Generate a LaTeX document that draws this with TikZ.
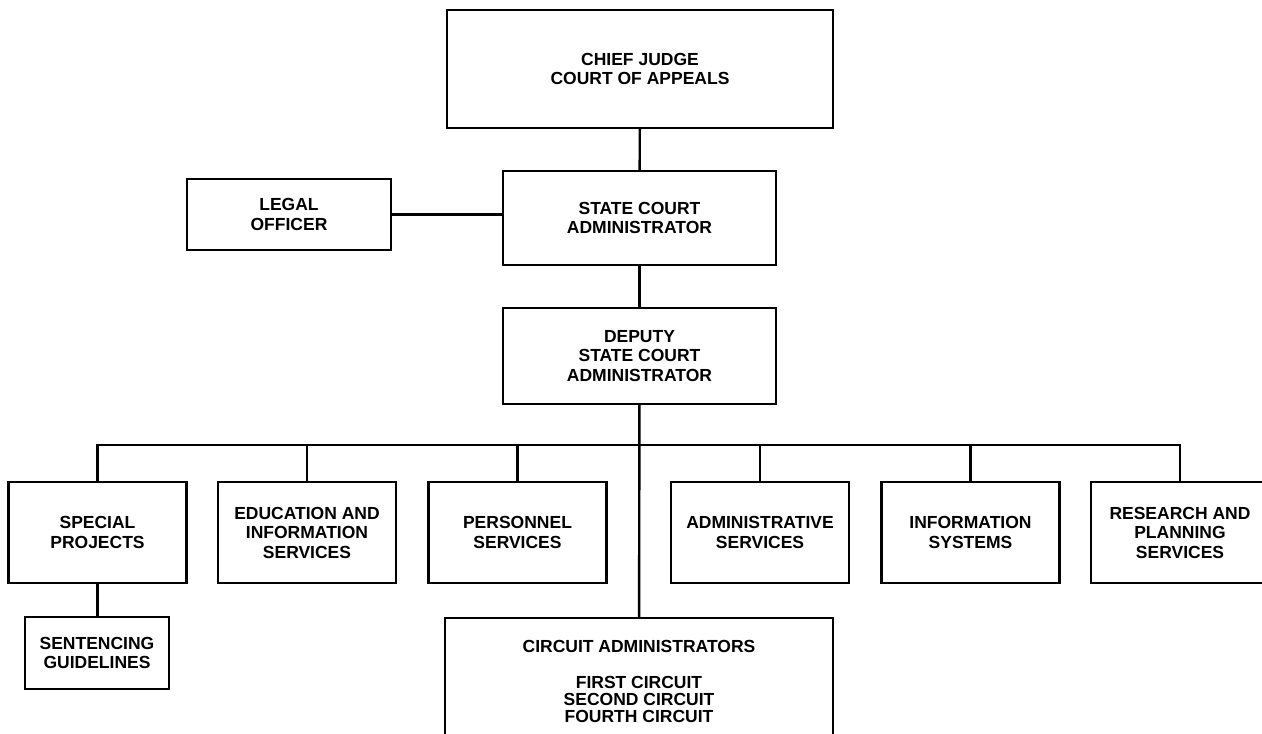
\documentclass[tikz,border=0pt]{standalone}
\usepackage{fontspec}
\setmainfont{Liberation Sans}
\usepackage{tikz}
\usetikzlibrary{positioning}

\begin{document}
\begin{tikzpicture}[x=1pt,y=-1pt,line width=2.4pt,
                    font=\fontsize{17.5}{19.5}\selectfont\bfseries]
\tikzstyle{every node}=[draw,align=center,inner sep=0pt]
\tikzstyle{unit}=[minimum width=178pt,minimum height=101pt]
\useasboundingbox (0,0) rectangle (1262,734);
\node [minimum width=386pt,minimum height=118pt] (chief) at (640,69) {CHIEF JUDGE\\COURT OF APPEALS};
\node [minimum width=273pt,minimum height=94pt] (sca) at (639.5,218) {STATE COURT\\ADMINISTRATOR};
\node [minimum width=204pt,minimum height=71pt] (legal) at (289,214.5) {LEGAL\\OFFICER};
\node [minimum width=273pt,minimum height=96pt] (deputy) at (639.5,356) {DEPUTY\\STATE COURT\\ADMINISTRATOR};
\node [unit] (special) at (97.5,532.5) {SPECIAL\\PROJECTS};
\node [unit] (edu) at (307,532.5) {EDUCATION AND\\INFORMATION\\SERVICES};
\node [unit] (pers) at (517.5,532.5) {PERSONNEL\\SERVICES};
\node [unit] (admin) at (760,532.5) {ADMINISTRATIVE\\SERVICES};
\node [unit] (info) at (970.5,532.5) {INFORMATION\\SYSTEMS};
\node [unit] (research) at (1180,532.5) {RESEARCH AND\\PLANNING\\SERVICES};
\node [minimum width=144pt,minimum height=72pt] (sent) at (97,653) {SENTENCING\\GUIDELINES};
\node [minimum width=388pt,minimum height=127pt,font=\fontsize{17.5}{17}\selectfont\bfseries] (circuit) at (639,681.5) {CIRCUIT ADMINISTRATORS\\[19pt]FIRST CIRCUIT\\SECOND CIRCUIT\\FOURTH CIRCUIT};
\coordinate (bus) at (639.5,445);

\draw (chief) -- (sca);
\draw (legal) -- (legal -| sca.west);
\draw (sca) -- (deputy);
\draw (deputy) -- (circuit);
\draw (special.north) |- (bus) -| (research.north);
\foreach \n in {edu,pers,admin,info}
  \draw (\n.north) -- (\n.north |- bus);
\draw (special) -- (special |- sent.north);
	\end{tikzpicture}
\end{document}
